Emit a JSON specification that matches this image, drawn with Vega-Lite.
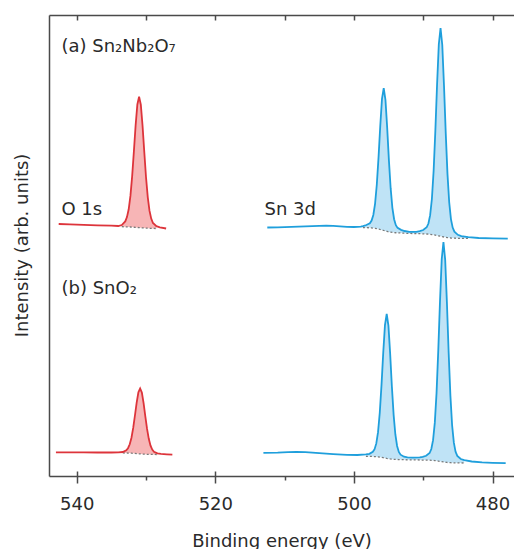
{
  "$schema": "https://vega.github.io/schema/vega-lite/v6.json",
  "autosize": {"type": "none"},
  "padding": {"left": 49, "top": 15, "right": 0, "bottom": 73},
  "width": 465,
  "height": 461,
  "config": {
    "view": {"stroke": null},
    "font": "DejaVu Sans",
    "axis": {"grid": false, "domainColor": "#4a4a4a", "domainWidth": 1.5, "tickColor": "#4a4a4a", "tickWidth": 1.5, "labelColor": "#2a2a2a", "titleColor": "#2a2a2a", "labelFont": "DejaVu Sans", "titleFont": "DejaVu Sans", "titleFontWeight": "normal"}
  },
  "data": {
    "values": [
      {"s": "aO", "c": "O", "e": 542.6, "v": 252.0},
      {"s": "aO", "c": "O", "e": 541.0, "v": 251.6},
      {"s": "aO", "c": "O", "e": 539.0, "v": 251.1},
      {"s": "aO", "c": "O", "e": 537.0, "v": 250.7},
      {"s": "aO", "c": "O", "e": 535.0, "v": 250.3},
      {"s": "aO", "c": "O", "e": 534.0, "v": 250.0},
      {"s": "aO", "c": "O", "e": 533.5, "v": 251.0, "bg": 249.3},
      {"s": "aO", "c": "O", "e": 533.0, "v": 254.6, "bg": 249.2},
      {"s": "aO", "c": "O", "e": 532.75, "v": 258.9, "bg": 249.15},
      {"s": "aO", "c": "O", "e": 532.5, "v": 266.7, "bg": 249.1},
      {"s": "aO", "c": "O", "e": 532.25, "v": 280.1, "bg": 249.0},
      {"s": "aO", "c": "O", "e": 532.0, "v": 299.8, "bg": 248.9},
      {"s": "aO", "c": "O", "e": 531.75, "v": 324.8, "bg": 248.75},
      {"s": "aO", "c": "O", "e": 531.5, "v": 350.8, "bg": 248.6},
      {"s": "aO", "c": "O", "e": 531.25, "v": 371.5, "bg": 248.5},
      {"s": "aO", "c": "O", "e": 531.0, "v": 379.4, "bg": 248.4},
      {"s": "aO", "c": "O", "e": 530.75, "v": 371.3, "bg": 248.25},
      {"s": "aO", "c": "O", "e": 530.5, "v": 350.3, "bg": 248.1},
      {"s": "aO", "c": "O", "e": 530.25, "v": 324.0, "bg": 248.0},
      {"s": "aO", "c": "O", "e": 530.0, "v": 298.8, "bg": 247.9},
      {"s": "aO", "c": "O", "e": 529.75, "v": 278.9, "bg": 247.8},
      {"s": "aO", "c": "O", "e": 529.5, "v": 265.3, "bg": 247.7},
      {"s": "aO", "c": "O", "e": 529.25, "v": 257.4, "bg": 247.65},
      {"s": "aO", "c": "O", "e": 529.0, "v": 253.0, "bg": 247.6},
      {"s": "aO", "c": "O", "e": 528.5, "v": 249.8, "bg": 247.5},
      {"s": "aO", "c": "O", "e": 528.0, "v": 248.7},
      {"s": "aO", "c": "O", "e": 527.1, "v": 247.5},

      {"s": "aSn", "c": "Sn", "e": 512.5, "v": 248.5},
      {"s": "aSn", "c": "Sn", "e": 511.0, "v": 248.6},
      {"s": "aSn", "c": "Sn", "e": 509.0, "v": 249.1},
      {"s": "aSn", "c": "Sn", "e": 507.0, "v": 249.6},
      {"s": "aSn", "c": "Sn", "e": 505.0, "v": 250.2},
      {"s": "aSn", "c": "Sn", "e": 504.0, "v": 250.4},
      {"s": "aSn", "c": "Sn", "e": 503.0, "v": 250.2},
      {"s": "aSn", "c": "Sn", "e": 502.0, "v": 249.7},
      {"s": "aSn", "c": "Sn", "e": 501.0, "v": 249.2},
      {"s": "aSn", "c": "Sn", "e": 500.0, "v": 249.0},
      {"s": "aSn", "c": "Sn", "e": 499.0, "v": 249.3},
      {"s": "aSn", "c": "Sn", "e": 498.7, "v": 249.9, "bg": 248.45},
      {"s": "aSn", "c": "Sn", "e": 498.2, "v": 251.0, "bg": 248.35},
      {"s": "aSn", "c": "Sn", "e": 497.7, "v": 252.8, "bg": 248.2},
      {"s": "aSn", "c": "Sn", "e": 497.45, "v": 255.4, "bg": 248.05},
      {"s": "aSn", "c": "Sn", "e": 497.2, "v": 261.0, "bg": 247.9},
      {"s": "aSn", "c": "Sn", "e": 496.95, "v": 272.2, "bg": 247.7},
      {"s": "aSn", "c": "Sn", "e": 496.7, "v": 291.2, "bg": 247.45},
      {"s": "aSn", "c": "Sn", "e": 496.45, "v": 318.4, "bg": 247.05},
      {"s": "aSn", "c": "Sn", "e": 496.2, "v": 350.0, "bg": 246.5},
      {"s": "aSn", "c": "Sn", "e": 495.95, "v": 377.1, "bg": 246.0},
      {"s": "aSn", "c": "Sn", "e": 495.7, "v": 387.9, "bg": 245.5},
      {"s": "aSn", "c": "Sn", "e": 495.45, "v": 376.2, "bg": 245.0},
      {"s": "aSn", "c": "Sn", "e": 495.2, "v": 348.2, "bg": 244.6},
      {"s": "aSn", "c": "Sn", "e": 494.95, "v": 315.6, "bg": 244.1},
      {"s": "aSn", "c": "Sn", "e": 494.7, "v": 287.8, "bg": 243.85},
      {"s": "aSn", "c": "Sn", "e": 494.45, "v": 268.2, "bg": 243.55},
      {"s": "aSn", "c": "Sn", "e": 494.2, "v": 256.8, "bg": 243.4},
      {"s": "aSn", "c": "Sn", "e": 493.95, "v": 250.8, "bg": 243.25},
      {"s": "aSn", "c": "Sn", "e": 493.7, "v": 248.1, "bg": 243.2},
      {"s": "aSn", "c": "Sn", "e": 493.2, "v": 246.1, "bg": 243.0},
      {"s": "aSn", "c": "Sn", "e": 492.7, "v": 245.0, "bg": 242.8},
      {"s": "aSn", "c": "Sn", "e": 492.0, "v": 244.2, "bg": 242.6},
      {"s": "aSn", "c": "Sn", "e": 491.0, "v": 244.2, "bg": 242.4},
      {"s": "aSn", "c": "Sn", "e": 490.5, "v": 244.8, "bg": 242.3},
      {"s": "aSn", "c": "Sn", "e": 490.0, "v": 246.0, "bg": 242.2},
      {"s": "aSn", "c": "Sn", "e": 489.5, "v": 248.7, "bg": 242.0},
      {"s": "aSn", "c": "Sn", "e": 489.25, "v": 252.5, "bg": 241.85},
      {"s": "aSn", "c": "Sn", "e": 489.0, "v": 260.8, "bg": 241.7},
      {"s": "aSn", "c": "Sn", "e": 488.75, "v": 277.0, "bg": 241.45},
      {"s": "aSn", "c": "Sn", "e": 488.5, "v": 305.0, "bg": 241.2},
      {"s": "aSn", "c": "Sn", "e": 488.25, "v": 345.1, "bg": 240.8},
      {"s": "aSn", "c": "Sn", "e": 488.0, "v": 391.8, "bg": 240.4},
      {"s": "aSn", "c": "Sn", "e": 487.75, "v": 431.8, "bg": 240.05},
      {"s": "aSn", "c": "Sn", "e": 487.5, "v": 448.0, "bg": 239.7},
      {"s": "aSn", "c": "Sn", "e": 487.25, "v": 431.0, "bg": 239.35},
      {"s": "aSn", "c": "Sn", "e": 487.0, "v": 390.3, "bg": 239.0},
      {"s": "aSn", "c": "Sn", "e": 486.75, "v": 342.9, "bg": 238.7},
      {"s": "aSn", "c": "Sn", "e": 486.5, "v": 302.1, "bg": 238.4},
      {"s": "aSn", "c": "Sn", "e": 486.25, "v": 273.7, "bg": 238.2},
      {"s": "aSn", "c": "Sn", "e": 486.0, "v": 256.9, "bg": 238.0},
      {"s": "aSn", "c": "Sn", "e": 485.75, "v": 248.4, "bg": 237.9},
      {"s": "aSn", "c": "Sn", "e": 485.5, "v": 244.3, "bg": 237.8},
      {"s": "aSn", "c": "Sn", "e": 485.0, "v": 241.2, "bg": 237.7},
      {"s": "aSn", "c": "Sn", "e": 484.5, "v": 239.9, "bg": 237.6},
      {"s": "aSn", "c": "Sn", "e": 483.5, "v": 238.8, "bg": 237.55},
      {"s": "aSn", "c": "Sn", "e": 482.0, "v": 238.0},
      {"s": "aSn", "c": "Sn", "e": 480.0, "v": 237.6},
      {"s": "aSn", "c": "Sn", "e": 477.8, "v": 237.4},

      {"s": "bO", "c": "O", "e": 543.0, "v": 23.7},
      {"s": "bO", "c": "O", "e": 541.0, "v": 23.6},
      {"s": "bO", "c": "O", "e": 539.0, "v": 23.6},
      {"s": "bO", "c": "O", "e": 537.0, "v": 23.5},
      {"s": "bO", "c": "O", "e": 535.0, "v": 23.5},
      {"s": "bO", "c": "O", "e": 534.0, "v": 23.6},
      {"s": "bO", "c": "O", "e": 533.35, "v": 24.0, "bg": 23.05},
      {"s": "bO", "c": "O", "e": 532.85, "v": 25.7, "bg": 23.0},
      {"s": "bO", "c": "O", "e": 532.6, "v": 27.8, "bg": 22.95},
      {"s": "bO", "c": "O", "e": 532.35, "v": 31.7, "bg": 22.9},
      {"s": "bO", "c": "O", "e": 532.1, "v": 38.3, "bg": 22.8},
      {"s": "bO", "c": "O", "e": 531.85, "v": 48.1, "bg": 22.7},
      {"s": "bO", "c": "O", "e": 531.6, "v": 60.5, "bg": 22.55},
      {"s": "bO", "c": "O", "e": 531.35, "v": 73.4, "bg": 22.4},
      {"s": "bO", "c": "O", "e": 531.1, "v": 83.7, "bg": 22.25},
      {"s": "bO", "c": "O", "e": 530.85, "v": 87.5, "bg": 22.1},
      {"s": "bO", "c": "O", "e": 530.6, "v": 83.4, "bg": 21.95},
      {"s": "bO", "c": "O", "e": 530.35, "v": 72.9, "bg": 21.85},
      {"s": "bO", "c": "O", "e": 530.1, "v": 59.7, "bg": 21.75},
      {"s": "bO", "c": "O", "e": 529.85, "v": 47.1, "bg": 21.7},
      {"s": "bO", "c": "O", "e": 529.6, "v": 37.2, "bg": 21.65},
      {"s": "bO", "c": "O", "e": 529.35, "v": 30.4, "bg": 21.6},
      {"s": "bO", "c": "O", "e": 529.1, "v": 26.4, "bg": 21.6},
      {"s": "bO", "c": "O", "e": 528.85, "v": 24.3, "bg": 21.55},
      {"s": "bO", "c": "O", "e": 528.35, "v": 22.7, "bg": 21.5},
      {"s": "bO", "c": "O", "e": 527.85, "v": 22.2},
      {"s": "bO", "c": "O", "e": 527.0, "v": 21.7},
      {"s": "bO", "c": "O", "e": 526.2, "v": 21.3},

      {"s": "bSn", "c": "Sn", "e": 513.06, "v": 23.1},
      {"s": "bSn", "c": "Sn", "e": 511.0, "v": 23.4},
      {"s": "bSn", "c": "Sn", "e": 509.5, "v": 23.9},
      {"s": "bSn", "c": "Sn", "e": 508.3, "v": 24.2},
      {"s": "bSn", "c": "Sn", "e": 507.0, "v": 23.8},
      {"s": "bSn", "c": "Sn", "e": 505.0, "v": 22.9},
      {"s": "bSn", "c": "Sn", "e": 503.0, "v": 21.9},
      {"s": "bSn", "c": "Sn", "e": 501.0, "v": 21.2},
      {"s": "bSn", "c": "Sn", "e": 499.5, "v": 21.0},
      {"s": "bSn", "c": "Sn", "e": 498.27, "v": 21.6, "bg": 19.7},
      {"s": "bSn", "c": "Sn", "e": 497.77, "v": 22.2, "bg": 19.6},
      {"s": "bSn", "c": "Sn", "e": 497.27, "v": 24.2, "bg": 19.5},
      {"s": "bSn", "c": "Sn", "e": 497.02, "v": 26.8, "bg": 19.4},
      {"s": "bSn", "c": "Sn", "e": 496.77, "v": 32.6, "bg": 19.3},
      {"s": "bSn", "c": "Sn", "e": 496.52, "v": 43.8, "bg": 19.1},
      {"s": "bSn", "c": "Sn", "e": 496.27, "v": 63.2, "bg": 18.9},
      {"s": "bSn", "c": "Sn", "e": 496.02, "v": 90.9, "bg": 18.6},
      {"s": "bSn", "c": "Sn", "e": 495.77, "v": 123.2, "bg": 18.3},
      {"s": "bSn", "c": "Sn", "e": 495.52, "v": 150.9, "bg": 17.95},
      {"s": "bSn", "c": "Sn", "e": 495.27, "v": 162.0, "bg": 17.6},
      {"s": "bSn", "c": "Sn", "e": 495.02, "v": 150.3, "bg": 17.3},
      {"s": "bSn", "c": "Sn", "e": 494.77, "v": 122.1, "bg": 17.05},
      {"s": "bSn", "c": "Sn", "e": 494.52, "v": 89.3, "bg": 16.85},
      {"s": "bSn", "c": "Sn", "e": 494.27, "v": 61.1, "bg": 16.7},
      {"s": "bSn", "c": "Sn", "e": 494.02, "v": 41.5, "bg": 16.6},
      {"s": "bSn", "c": "Sn", "e": 493.77, "v": 30.0, "bg": 16.5},
      {"s": "bSn", "c": "Sn", "e": 493.52, "v": 24.1, "bg": 16.45},
      {"s": "bSn", "c": "Sn", "e": 493.27, "v": 21.3, "bg": 16.4},
      {"s": "bSn", "c": "Sn", "e": 492.77, "v": 19.3, "bg": 16.3},
      {"s": "bSn", "c": "Sn", "e": 492.27, "v": 18.7, "bg": 16.2},
      {"s": "bSn", "c": "Sn", "e": 491.5, "v": 18.4, "bg": 16.1},
      {"s": "bSn", "c": "Sn", "e": 490.5, "v": 18.7, "bg": 16.0},
      {"s": "bSn", "c": "Sn", "e": 490.08, "v": 19.2, "bg": 15.95},
      {"s": "bSn", "c": "Sn", "e": 489.58, "v": 20.2, "bg": 15.9},
      {"s": "bSn", "c": "Sn", "e": 489.08, "v": 23.0, "bg": 15.8},
      {"s": "bSn", "c": "Sn", "e": 488.83, "v": 27.0, "bg": 15.7},
      {"s": "bSn", "c": "Sn", "e": 488.58, "v": 35.8, "bg": 15.6},
      {"s": "bSn", "c": "Sn", "e": 488.33, "v": 53.1, "bg": 15.45},
      {"s": "bSn", "c": "Sn", "e": 488.08, "v": 82.6, "bg": 15.2},
      {"s": "bSn", "c": "Sn", "e": 487.83, "v": 125.1, "bg": 14.95},
      {"s": "bSn", "c": "Sn", "e": 487.58, "v": 174.4, "bg": 14.65},
      {"s": "bSn", "c": "Sn", "e": 487.33, "v": 216.8, "bg": 14.35},
      {"s": "bSn", "c": "Sn", "e": 487.08, "v": 233.9, "bg": 14.05},
      {"s": "bSn", "c": "Sn", "e": 486.83, "v": 216.2, "bg": 13.8},
      {"s": "bSn", "c": "Sn", "e": 486.58, "v": 173.3, "bg": 13.55},
      {"s": "bSn", "c": "Sn", "e": 486.33, "v": 123.5, "bg": 13.4},
      {"s": "bSn", "c": "Sn", "e": 486.08, "v": 80.6, "bg": 13.3},
      {"s": "bSn", "c": "Sn", "e": 485.83, "v": 50.7, "bg": 13.25},
      {"s": "bSn", "c": "Sn", "e": 485.58, "v": 33.3, "bg": 13.2},
      {"s": "bSn", "c": "Sn", "e": 485.33, "v": 24.2, "bg": 13.15},
      {"s": "bSn", "c": "Sn", "e": 485.08, "v": 20.1, "bg": 13.1},
      {"s": "bSn", "c": "Sn", "e": 484.58, "v": 17.0, "bg": 13.05},
      {"s": "bSn", "c": "Sn", "e": 484.08, "v": 15.8, "bg": 13.0},
      {"s": "bSn", "c": "Sn", "e": 483.0, "v": 14.5},
      {"s": "bSn", "c": "Sn", "e": 481.5, "v": 13.6},
      {"s": "bSn", "c": "Sn", "e": 480.0, "v": 13.2},
      {"s": "bSn", "c": "Sn", "e": 478.1, "v": 12.9}
    ]
  },
  "resolve": {"axis": {"x": "independent", "y": "independent"}, "scale": {"color": "independent"}},
  "layer": [
    {
      "transform": [{"filter": "isValid(datum.bg)"}],
      "mark": {"type": "area", "opacity": 1},
      "encoding": {
        "x": {"field": "e", "type": "quantitative", "scale": {"domain": [476.9, 544], "reverse": true, "nice": false, "zero": false},
          "axis": {"orient": "bottom", "values": [480, 500, 520, 540], "tickSize": 7, "labelFontSize": 18, "labelPadding": 26, "labelBaseline": "alphabetic", "labelFlush": false, "title": "Binding energy (eV)", "titleFontSize": 18, "titleY": 70, "titleBaseline": "alphabetic"}},
        "y": {"field": "v", "type": "quantitative", "scale": {"domain": [0, 461], "nice": false, "zero": false},
          "axis": {"orient": "left", "ticks": false, "labels": false, "domain": true, "title": "Intensity (arb. units)", "titleFontSize": 18, "titleX": -22, "titleY": 230, "titleAngle": -90, "titleBaseline": "alphabetic", "titleAlign": "center"}},
        "y2": {"field": "bg"},
        "detail": {"field": "s"},
        "color": {"field": "c", "type": "nominal", "scale": {"domain": ["O", "Sn"], "range": ["#f7b5b6", "#bfe3f6"]}, "legend": null}
      }
    },
    {
      "transform": [{"filter": "isValid(datum.bg)"}],
      "mark": {"type": "line", "color": "#7a7a7a", "strokeWidth": 1.3, "strokeDash": [2, 2]},
      "encoding": {
        "x": {"field": "e", "type": "quantitative", "axis": {"orient": "bottom", "values": [490, 510, 530], "tickSize": 4, "labels": false, "domain": false, "title": null}},
        "y": {"field": "bg", "type": "quantitative", "axis": null},
        "detail": {"field": "s"}
      }
    },
    {
      "mark": {"type": "line", "strokeWidth": 1.8},
      "encoding": {
        "x": {"field": "e", "type": "quantitative", "axis": {"orient": "top", "values": [480, 490, 500, 510, 520, 530, 540], "tickSize": -5, "labels": false, "domain": true, "title": null}},
        "y": {"field": "v", "type": "quantitative", "axis": null},
        "detail": {"field": "s"},
        "color": {"field": "c", "type": "nominal", "scale": {"domain": ["O", "Sn"], "range": ["#dd343b", "#1f9fdc"]}, "legend": null}
      }
    },
    {
      "data": {
        "values": [
          {"e": 542.2, "v": 424, "label": "(a) Sn₂Nb₂O₇"},
          {"e": 542.2, "v": 261, "label": "O 1s"},
          {"e": 512.9, "v": 261, "label": "Sn 3d"},
          {"e": 542.2, "v": 182, "label": "(b) SnO₂"}
        ]
      },
      "mark": {"type": "text", "align": "left", "baseline": "alphabetic", "fontSize": 18, "font": "DejaVu Sans", "color": "#2a2a2a"},
      "encoding": {
        "x": {"field": "e", "type": "quantitative", "axis": {"orient": "bottom", "values": [480, 500, 520, 540], "tickSize": -5, "labels": false, "domain": false, "title": null}},
        "y": {"field": "v", "type": "quantitative", "axis": null},
        "text": {"field": "label"}
      }
    }
  ]
}
